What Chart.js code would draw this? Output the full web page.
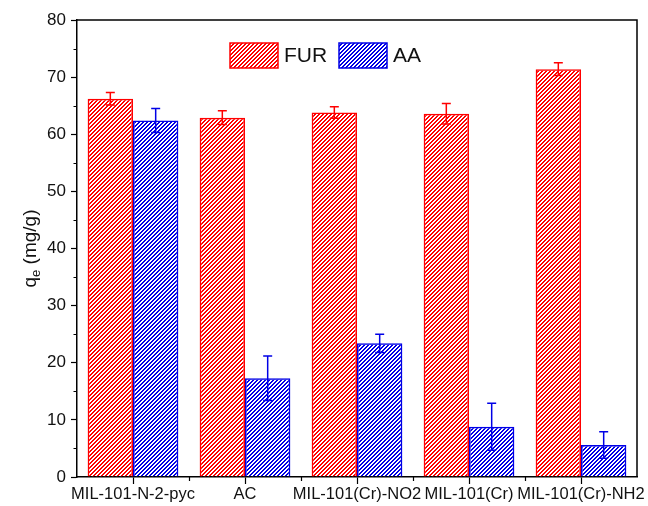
<!DOCTYPE html>
<html>
<head>
<meta charset="utf-8">
<script src="https://cdn.jsdelivr.net/npm/chart.js@4"></script>
<style>
html,body{margin:0;padding:0;background:#fff;}
#wrap{width:648px;height:506px;}
</style>
</head>
<body>
<div id="wrap"><canvas id="c" width="648" height="506"></canvas></div>
<script>
const categories = ['MIL-101-N-2-pyc', 'AC', 'MIL-101(Cr)-NO2', 'MIL-101(Cr)', 'MIL-101(Cr)-NH2'];
const furValues = [66.2, 62.9, 63.8, 63.6, 71.4];
const furErrors = [1.1, 1.2, 1.0, 1.8, 1.1];
const aaValues = [62.4, 17.3, 23.4, 8.8, 5.6];
const aaErrors = [2.1, 3.9, 1.6, 4.1, 2.3];
const yTicks = [0, 10, 20, 30, 40, 50, 60, 70, 80];

const FONT = '"Liberation Sans", Arial, sans-serif';
const RED = '#ff0000';
const BLUE = '#0000e6';

function hatch(color) {
  const s = 4;
  const c = document.createElement('canvas');
  c.width = s; c.height = s;
  const g = c.getContext('2d');
  g.fillStyle = color;
  for (let px = 0; px < s; px++) {
    for (let py = 0; py < s; py++) {
      if ((px + py) % s < 2) g.fillRect(px, py, 1, 1);
    }
  }
  return g.createPattern(c, 'repeat');
}
const redPat = hatch(RED);
const bluePat = hatch(BLUE);

const errorBars = {
  id: 'errorBars',
  afterDatasetsDraw(chart) {
    const ctx = chart.ctx;
    const y = chart.scales.y;
    chart.data.datasets.forEach((ds, i) => {
      const meta = chart.getDatasetMeta(i);
      ctx.save();
      ctx.strokeStyle = ds.borderColor;
      ctx.lineWidth = 1.5;
      meta.data.forEach((el, j) => {
        const v = ds.data[j], e = ds.errors[j];
        const yt = y.getPixelForValue(v + e), yb = y.getPixelForValue(v - e);
        const x = el.x, w = 4.5;
        ctx.beginPath();
        ctx.moveTo(x, yt); ctx.lineTo(x, yb);
        ctx.moveTo(x - w, yt); ctx.lineTo(x + w, yt);
        ctx.moveTo(x - w, yb); ctx.lineTo(x + w, yb);
        ctx.stroke();
      });
      ctx.restore();
    });
  }
};

const frame = {
  id: 'frame',
  afterDraw(chart) {
    const ctx = chart.ctx, a = chart.chartArea;
    const x = chart.scales.x, y = chart.scales.y;
    ctx.save();
    ctx.strokeStyle = '#000';
    ctx.lineWidth = 1.5;
    ctx.beginPath();
    ctx.moveTo(a.left, a.top); ctx.lineTo(a.right, a.top); ctx.lineTo(a.right, a.bottom);
    ctx.stroke();
    ctx.lineWidth = 1.2;
    ctx.beginPath();
    for (let v = 5; v < 80; v += 10) {
      const py = Math.round(y.getPixelForValue(v)) + 0.5;
      ctx.moveTo(a.left - 3.5, py); ctx.lineTo(a.left, py);
    }
    for (let i = 0; i < categories.length - 1; i++) {
      const px = Math.round((x.getPixelForValue(i) + x.getPixelForValue(i + 1)) / 2) + 0.5;
      ctx.moveTo(px, a.bottom); ctx.lineTo(px, a.bottom + 4);
    }
    ctx.stroke();
    // y title with subscript
    ctx.fillStyle = '#111';
    ctx.translate(30, (a.top + a.bottom) / 2);
    ctx.rotate(-Math.PI / 2);
    ctx.textBaseline = 'alphabetic';
    const big = '19px ' + FONT, small = '13px ' + FONT;
    const q = 'q', rest = ' (mg/g)';
    ctx.font = big; const wq = ctx.measureText(q).width;
    ctx.font = small; const we = ctx.measureText('e').width;
    ctx.font = big; const wr = ctx.measureText(rest).width;
    let sx = -(wq + we + wr) / 2;
    ctx.fillText(q, sx, 6); sx += wq;
    ctx.font = small; ctx.fillText('e', sx, 10); sx += we;
    ctx.font = big; ctx.fillText(rest, sx, 6);
    ctx.restore();
    // legend
    ctx.save();
    const items = [[chart.data.datasets[0], 230], [chart.data.datasets[1], 339]];
    items.forEach(([ds, lx]) => {
      ctx.fillStyle = ds.backgroundColor;
      ctx.fillRect(lx, 43, 48, 25);
      ctx.strokeStyle = ds.borderColor;
      ctx.lineWidth = 1.5;
      ctx.strokeRect(lx, 43, 48, 25);
      ctx.fillStyle = '#111';
      ctx.font = '21px ' + FONT;
      ctx.textBaseline = 'middle';
      ctx.fillText(ds.label, lx + 54, 56.5);
    });
    ctx.restore();
  }
};

new Chart(document.getElementById('c'), {
  type: 'bar',
  data: {
    labels: categories,
    datasets: [
      { label: 'FUR', data: furValues, errors: furErrors, backgroundColor: redPat, borderColor: RED, borderWidth: 1.5 },
      { label: 'AA', data: aaValues, errors: aaErrors, backgroundColor: bluePat, borderColor: BLUE, borderWidth: 1.5 }
    ]
  },
  options: {
    responsive: false,
    animation: false,
    devicePixelRatio: 1,
    layout: { padding: { top: 20, right: 11, left: 0, bottom: 0 } },
    datasets: { bar: { categoryPercentage: 0.81, barPercentage: 1.0 } },
    plugins: { legend: { display: false }, tooltip: { enabled: false } },
    scales: {
      x: {
        offset: true,
        grid: { offset: false, drawOnChartArea: false, drawTicks: true, tickLength: 7, tickColor: '#000', tickWidth: 1.2 },
        border: { display: true, color: '#000', width: 1.5 },
        ticks: { color: '#111', font: { family: FONT, size: 16.5 }, maxRotation: 0, minRotation: 0, autoSkip: false, padding: 1 },
        afterFit(s) { s.height = 29; }
      },
      y: {
        min: 0, max: 80,
        afterBuildTicks(s) { s.ticks = yTicks.map(v => ({ value: v })); },
        grid: { drawOnChartArea: false, drawTicks: true, tickLength: 6, tickColor: '#000', tickWidth: 1.2 },
        border: { display: true, color: '#000', width: 1.5 },
        ticks: { color: '#111', font: { family: FONT, size: 17 }, padding: 5 },
        afterFit(s) { s.width = 77; }
      }
    }
  },
  plugins: [errorBars, frame]
});
</script>
</body>
</html>
